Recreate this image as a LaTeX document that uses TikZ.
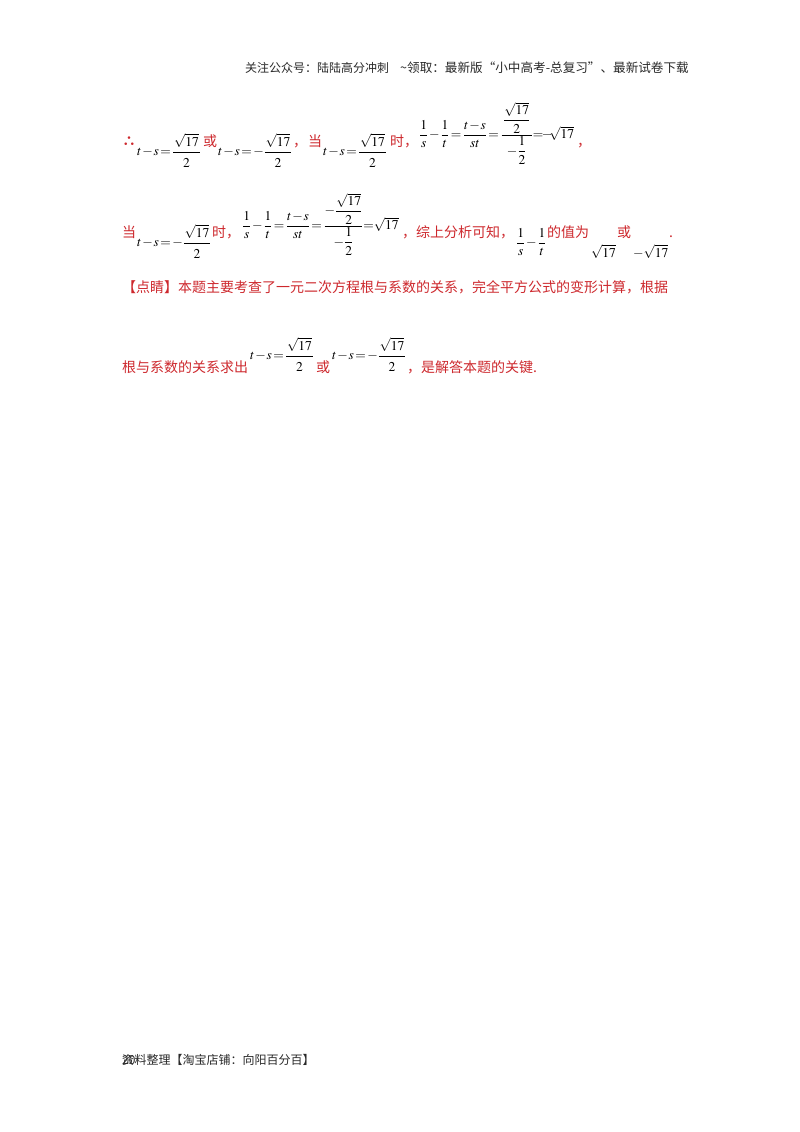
\documentclass[tikz,border=0pt]{standalone}
\usepackage{amsmath}
\usepackage{mathptmx}
\usepackage{fontspec}
\setmainfont{Noto Sans CJK SC}
\definecolor{answerred}{RGB}{205,40,45}
\definecolor{headgray}{RGB}{40,40,40}
\medmuskip=1mu
\thickmuskip=2mu
\newcommand{\rootval}{\sqrt{17}}
\newcommand{\lowtwo}{\lower3pt\hbox{$2$}}
\newcommand{\posroot}{t-s=\dfrac{\mkern1mu\rootval\mkern1mu}{\lowtwo}}
\newcommand{\negroot}{t-s=-\dfrac{\mkern1mu\rootval\mkern1mu}{\lowtwo}}
\newcommand{\diffsplit}{\dfrac{1}{s}-\dfrac{1}{t}=\dfrac{t-s}{st}}
\begin{document}
\begin{tikzpicture}[x=1pt,y=-1pt]
\tikzstyle{redtext}=[anchor=base west,inner sep=0pt,text=answerred,font=\fontsize{14}{16}\selectfont]
\tikzstyle{blacktext}=[anchor=base west,inner sep=0pt,text=headgray,font=\fontsize{12}{14}\selectfont]
\tikzstyle{formula}=[anchor=base west,inner sep=0pt,text=black,font=\fontsize{13.5}{16}\selectfont]
\useasboundingbox (0,0) rectangle (800,1132);

\draw (245,72) node[blacktext] (heada) {关注公众号：陆陆高分冲刺};
\draw (400,72) node[blacktext,font=\fontsize{12.6}{14}\selectfont] (headb) {\textasciitilde 领取：最新版“小中高考-总复习”、最新试卷下载};

% first line
\draw (122,146) node[redtext] (therefore) {\bfseries ∴};
\draw (137,155.4) node[formula] (fa) {$\posroot$};
\draw (203,146) node[redtext] (ora) {或};
\draw (218,155.4) node[formula] (fb) {$\negroot$};
\draw (293,146) node[redtext] (commaa) {，};
\draw (308,146) node[redtext] (dang) {当};
\draw (323,155.4) node[formula] (fc) {$\posroot$};
\draw (390,146) node[redtext] (shia) {时，};
\draw (419,138.4) node[formula] (fd) {$\diffsplit=\dfrac{\,\dfrac{\rootval}{2}\,}{-\dfrac{1}{2}}\!=\!\!-\!\!\rootval$};
\draw (577,146) node[redtext] (commab) {，};

% second line
\draw (122,237) node[redtext] (dangb) {当};
\draw (137,246.4) node[formula] (fe) {$\negroot$};
\draw (212,237) node[redtext] (shib) {时，};
\draw (242,229.4) node[formula] (ff) {$\diffsplit=\dfrac{-\dfrac{\rootval}{2}}{-\dfrac{1}{2}}\!=\!\rootval$};
\draw (402,237) node[redtext] (zong) {，综上分析可知，};
\draw (516,246.4) node[formula] (fg) {$\dfrac{1}{s}-\dfrac{1}{t}$};
\draw (547,237) node[redtext] (zhi) {的值为};
\draw (591,257) node[formula] (fh) {$\rootval$};
\draw (617,237) node[redtext] (orb) {或};
\draw (633,257) node[formula] (fi) {$-\rootval$};
\draw (669,237) node[redtext] (dot) {.};

% point
\draw (122,292) node[redtext] (dianjing) {【点睛】本题主要考查了一元二次方程根与系数的关系，完全平方公式的变形计算，根据};
\draw (122,372) node[redtext] (gen) {根与系数的关系求出};
\draw (250,359.4) node[formula] (fj) {$\posroot$};
\draw (316,372) node[redtext] (orc) {或};
\draw (332,359.4) node[formula] (fk) {$\negroot$};
\draw (407,372) node[redtext] (jie) {，是解答本题的关键.};

% foot
\draw (122,1064) node[blacktext] (zi) {资};
\draw (122,1064) node[blacktext] (pagenum) {20};
\draw (134.5,1064) node[blacktext] (foot) {料整理【淘宝店铺：向阳百分百】};
\end{tikzpicture}
\end{document}
